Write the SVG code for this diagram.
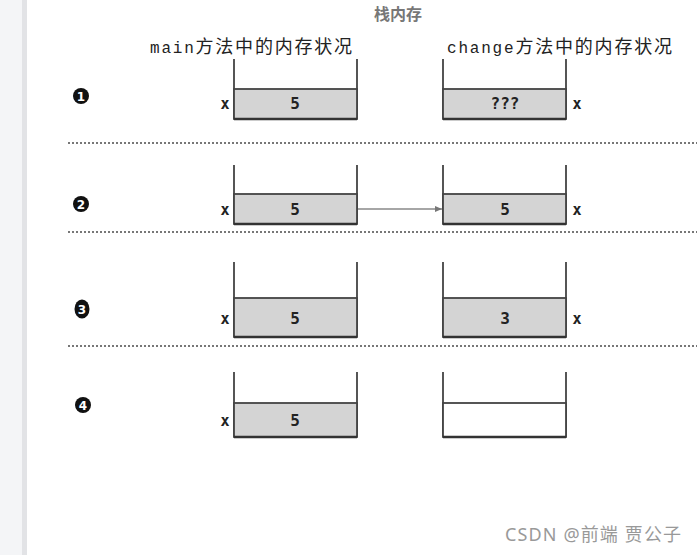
<svg xmlns="http://www.w3.org/2000/svg" width="697" height="555" viewBox="0 0 697 555">
<style>
  .wall{fill:none;stroke:#444;stroke-width:1.8}
  .cell{fill:#d4d4d4;stroke:#444;stroke-width:1.8}
  .empty{fill:#fff;stroke:#444;stroke-width:1.8}
  .base{stroke:#333;stroke-width:2.6}
  .val{font-family:"DejaVu Sans Mono","Liberation Mono",monospace;font-weight:bold;font-size:16px;fill:#222;text-anchor:middle}
  .var{font-family:"DejaVu Sans Mono","Liberation Mono",monospace;font-weight:bold;font-size:15px;fill:#222;text-anchor:middle}
  .dot{stroke:#777;stroke-width:2;stroke-dasharray:2 2}
  .bul{fill:#111}
  .bn{font-family:"DejaVu Sans","Liberation Sans",sans-serif;font-weight:bold;font-size:12px;fill:#fff;text-anchor:middle}
  .hd{font-family:"Noto Sans CJK SC",sans-serif;font-size:18px;fill:#222}
  .mono{font-family:"Liberation Mono",monospace;font-size:16px}
</style>
<defs>
  <marker id="ah" markerWidth="8" markerHeight="8" refX="7" refY="4" orient="auto" markerUnits="userSpaceOnUse">
    <path d="M0,1 L7,4 L0,7 Z" fill="#777"/>
  </marker>
</defs>
<rect x="0" y="0" width="697" height="555" fill="#fff"/>
<rect x="0" y="0" width="23" height="555" fill="#f4f5f7"/>
<rect x="22" y="0" width="5" height="555" fill="#e2e3e6"/>

<text x="398" y="20" font-family="Noto Sans CJK SC,sans-serif" font-weight="bold" font-size="16" fill="#777" text-anchor="middle">栈内存</text>
<text class="hd" x="150" y="53" textLength="202" lengthAdjust="spacing"><tspan class="mono">main</tspan>方法中的内存状况</text>
<text class="hd" x="447" y="53" textLength="225" lengthAdjust="spacing"><tspan class="mono">change</tspan>方法中的内存状况</text>

<g id="dividers">
  <line class="dot" x1="68" y1="143" x2="697" y2="143"/>
  <line class="dot" x1="68" y1="232" x2="697" y2="232"/>
  <line class="dot" x1="68" y1="346" x2="697" y2="346"/>
</g>

<g id="bullet1"><circle class="bul" cx="81" cy="96" r="8"/><text class="bn" x="81" y="100.5">1</text></g>
<g id="bullet2"><circle class="bul" cx="81" cy="204" r="8"/><text class="bn" x="81" y="208.5">2</text></g>
<g id="bullet3"><ellipse class="bul" cx="82" cy="309" rx="7.5" ry="9.5"/><text class="bn" x="82" y="314" font-size="14">3</text></g>
<g id="bullet4"><circle class="bul" cx="83" cy="405" r="8"/><text class="bn" x="83" y="409.5">4</text></g>

<g id="row1-main">
  <path class="wall" d="M234,59 V119 M357,59 V119"/>
  <rect class="cell" x="234" y="89" width="123" height="30"/>
  <line class="base" x1="234" y1="119" x2="357" y2="119"/>
  <text class="val" x="295" y="109">5</text>
  <text class="var" x="225" y="109">x</text>
</g>
<g id="row1-change">
  <path class="wall" d="M443,59 V119 M566,59 V119"/>
  <rect class="cell" x="443" y="89" width="123" height="30"/>
  <line class="base" x1="443" y1="119" x2="566" y2="119"/>
  <text class="val" x="505" y="109">???</text>
  <text class="var" x="577" y="109">x</text>
</g>

<g id="row2-main">
  <path class="wall" d="M234,165 V224 M357,165 V224"/>
  <rect class="cell" x="234" y="194" width="123" height="30"/>
  <line class="base" x1="234" y1="224" x2="357" y2="224"/>
  <text class="val" x="295" y="215">5</text>
  <text class="var" x="225" y="215">x</text>
</g>
<g id="row2-change">
  <path class="wall" d="M443,165 V224 M566,165 V224"/>
  <rect class="cell" x="443" y="194" width="123" height="30"/>
  <line class="base" x1="443" y1="224" x2="566" y2="224"/>
  <text class="val" x="505" y="215">5</text>
  <text class="var" x="577" y="215">x</text>
</g>

<g id="row3-main">
  <path class="wall" d="M234,262 V337 M357,262 V337"/>
  <rect class="cell" x="234" y="298" width="123" height="39"/>
  <line class="base" x1="234" y1="337" x2="357" y2="337"/>
  <text class="val" x="295" y="324" font-size="18">5</text>
  <text class="var" x="225" y="324" font-size="17">x</text>
</g>
<g id="row3-change">
  <path class="wall" d="M443,262 V337 M566,262 V337"/>
  <rect class="cell" x="443" y="298" width="123" height="39"/>
  <line class="base" x1="443" y1="337" x2="566" y2="337"/>
  <text class="val" x="505" y="324" font-size="18">3</text>
  <text class="var" x="577" y="324" font-size="17">x</text>
</g>

<g id="row4-main">
  <path class="wall" d="M234,372 V437 M357,372 V437"/>
  <rect class="cell" x="234" y="403" width="123" height="34"/>
  <line class="base" x1="234" y1="437" x2="357" y2="437"/>
  <text class="val" x="295" y="426">5</text>
  <text class="var" x="225" y="426">x</text>
</g>
<g id="row4-change">
  <path class="wall" d="M443,372 V437 M566,372 V437"/>
  <rect class="empty" x="443" y="403" width="123" height="34"/>
  <line class="base" x1="443" y1="437" x2="566" y2="437"/>
</g>

<g id="connectors">
  <line x1="358" y1="209" x2="442" y2="209" stroke="#888" stroke-width="1.5" marker-end="url(#ah)"/>
</g>

<text x="505" y="541" font-family="Noto Sans,Noto Sans CJK SC,sans-serif" font-size="18" fill="#999" textLength="176" lengthAdjust="spacing">CSDN @前端 贾公子</text>
</svg>
